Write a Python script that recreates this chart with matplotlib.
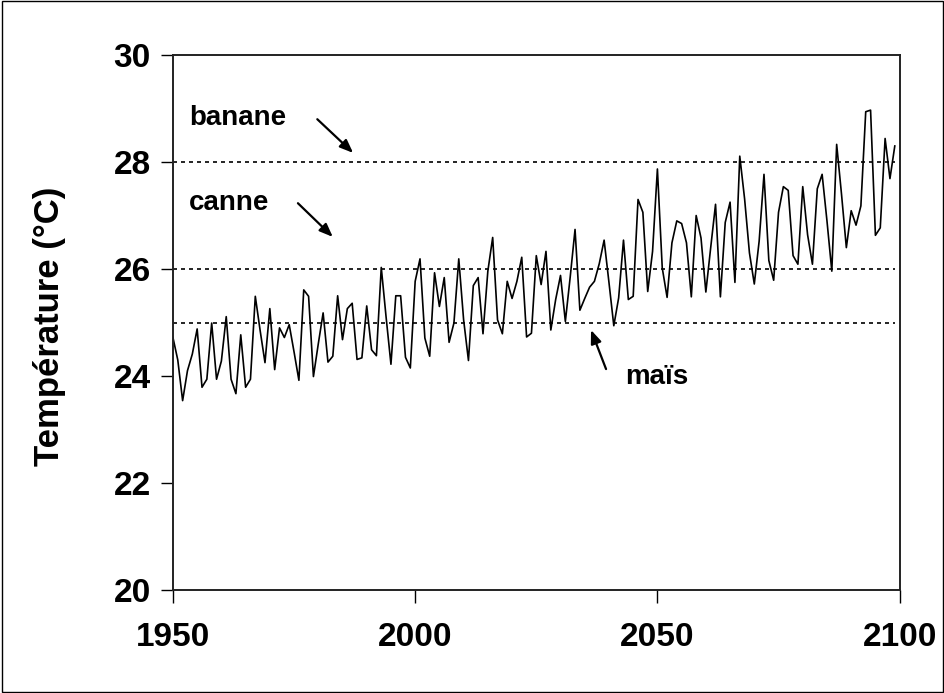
import matplotlib.pyplot as plt
from matplotlib.patches import Rectangle

plt.rcParams['font.family'] = ['Liberation Sans', 'DejaVu Sans']
plt.rcParams['font.weight'] = 'bold'

# données : température annuelle 1950-2099
years = list(range(1950, 2100))
temp = [
    24.72, 24.30, 23.54, 24.10, 24.41, 24.88, 23.79, 23.94, 24.99, 23.94,
    24.28, 25.11, 23.94, 23.67, 24.77, 23.79, 23.94, 25.49, 24.85, 24.25,
    25.26, 24.12, 24.90, 24.72, 24.96, 24.45, 23.92, 25.61, 25.49, 23.99,
    24.60, 25.18, 24.26, 24.37, 25.50, 24.68, 25.26, 25.36, 24.31, 24.34,
    25.31, 24.49, 24.38, 26.03, 25.10, 24.22, 25.50, 25.50, 24.35, 24.15,
    25.77, 26.19, 24.71, 24.37, 25.93, 25.30, 25.84, 24.63, 24.99, 26.19,
    25.05, 24.29, 25.69, 25.84, 24.79, 25.96, 26.59, 25.05, 24.79, 25.77,
    25.45, 25.77, 26.22, 24.73, 24.80, 26.25, 25.71, 26.33, 24.86, 25.43,
    25.88, 25.02, 25.85, 26.74, 25.23, 25.45, 25.66, 25.77, 26.10, 26.54,
    25.75, 24.94, 25.46, 26.54, 25.43, 25.49, 27.30, 27.06, 25.58, 26.33,
    27.87, 26.02, 25.47, 26.49, 26.90, 26.85, 26.49, 25.48, 27.00, 26.58,
    25.57, 26.40, 27.21, 25.48, 26.87, 27.25, 25.75, 28.11, 27.31, 26.30,
    25.72, 26.52, 27.77, 26.16, 25.79, 27.06, 27.54, 27.47, 26.25, 26.09,
    27.54, 26.64, 26.09, 27.50, 27.77, 26.90, 25.96, 28.33, 27.40, 26.40,
    27.09, 26.82, 27.18, 28.94, 28.97, 26.63, 26.77, 28.44, 27.69, 28.30,
]

# seuils des cultures
seuils = [28, 26, 25]
cultures = ['banane', 'canne', 'maïs']
texte_pos = [(1953.3, 28.69), (1953.3, 27.10), (2043.4, 23.86)]
fleches = [((1979.8, 28.80), (1987.2, 28.17)),
           ((1975.8, 27.23), (1983.0, 26.60)),
           ((2039.4, 24.13), (2036.3, 24.86))]

xticks = [1950, 2000, 2050, 2100]
yticks = [20, 22, 24, 26, 28, 30]

fig = plt.figure(figsize=(9.45, 6.93), dpi=100)
ax = fig.add_axes([0.183, 0.1486, 0.769, 0.772])

ax.plot(years, temp, color='black', linewidth=1.2)

for s in seuils:
    ax.plot([years[0], years[-1]], [s, s], color='black', linewidth=1.2,
            linestyle=(0, (2.4, 2.4)))

for nom, (tx, ty) in zip(cultures, texte_pos):
    ax.text(tx, ty, nom, fontsize=20, fontweight='bold', ha='left', va='baseline')

for (x0, y0), (x1, y1) in fleches:
    ax.annotate('', xy=(x1, y1), xytext=(x0, y0),
                arrowprops=dict(arrowstyle='-|>,head_length=0.8,head_width=0.32',
                                color='black', lw=1.6, shrinkA=0, shrinkB=0))

ax.set_xlim(1950, 2100)
ax.set_ylim(20, 30)
ax.set_xticks(xticks)
ax.set_yticks(yticks)
ax.tick_params(axis='both', direction='out', length=9, width=1, labelsize=24)
ax.tick_params(axis='x', pad=14)
ax.tick_params(axis='y', pad=7)
for lab in ax.get_xticklabels() + ax.get_yticklabels():
    lab.set_fontweight('bold')
for sp in ax.spines.values():
    sp.set_linewidth(1.4)
    sp.set_color('#222222')

fig.text(50 / 945, 1 - 326 / 693, 'Température (°C)', rotation=90,
         ha='center', va='center', fontsize=25, fontweight='bold')

# cadre autour de la figure
fig.patches.append(Rectangle((0.002, 0.002), 0.996, 0.996, transform=fig.transFigure,
                             fill=False, edgecolor='black', linewidth=1))

plt.savefig('out.png', dpi=100)
